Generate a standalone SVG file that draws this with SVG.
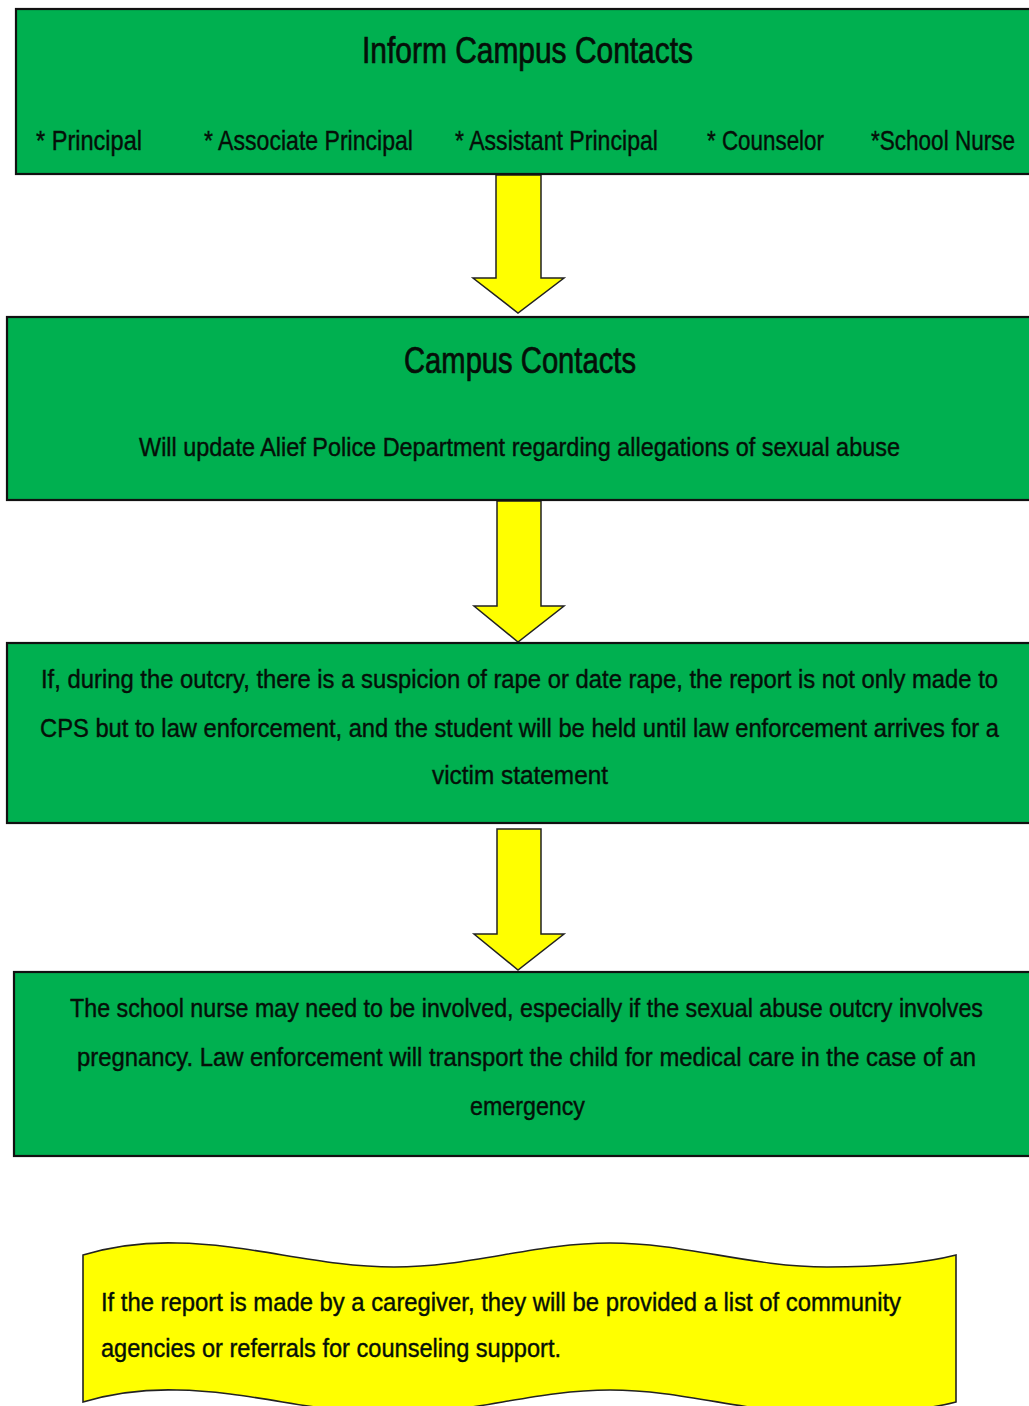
<svg xmlns="http://www.w3.org/2000/svg" width="1029" height="1406" viewBox="0 0 1029 1406">
<style>
.box{fill:#00B050;stroke:#111;stroke-width:2.2}
.arrow{fill:#FFFF00;stroke:#222;stroke-width:1.5;stroke-linejoin:miter}
.wave{fill:#FFFF00;stroke:#222;stroke-width:1.6}
text{font-family:"Liberation Sans",Arial,sans-serif;fill:#050f08;stroke:#050f08}
.title{font-size:36px;stroke-width:0.7}
.item{font-size:28px;stroke-width:0.4}
.body{font-size:26px;stroke-width:0.4}
</style>
<rect width="1029" height="1406" fill="#ffffff"/>
<g id="connectors">
<path class="arrow" d="M496,175 L541,175 L541,278 L564,278 L518,313 L473,278 L496,278 Z"/>
<path class="arrow" d="M497,501 L541,501 L541,606 L564,606 L518,642 L474,606 L497,606 Z"/>
<path class="arrow" d="M497,829 L541,829 L541,934 L564,934 L518,970 L474,934 L497,934 Z"/>
</g>
<g id="node-inform">
<rect class="box" x="16" y="9" width="1030" height="165"/>
<text class="title" x="362" y="63" textLength="331" lengthAdjust="spacingAndGlyphs">Inform Campus Contacts</text>
<text class="item" x="36" y="150" textLength="106" lengthAdjust="spacingAndGlyphs">* Principal</text>
<text class="item" x="204" y="150" textLength="209" lengthAdjust="spacingAndGlyphs">* Associate Principal</text>
<text class="item" x="455" y="150" textLength="203" lengthAdjust="spacingAndGlyphs">* Assistant Principal</text>
<text class="item" x="707" y="150" textLength="117" lengthAdjust="spacingAndGlyphs">* Counselor</text>
<text class="item" x="871" y="150" textLength="144" lengthAdjust="spacingAndGlyphs">*School Nurse</text>
</g>
<g id="node-campus">
<rect class="box" x="7" y="317" width="1040" height="183"/>
<text class="title" x="404" y="373" textLength="232" lengthAdjust="spacingAndGlyphs">Campus Contacts</text>
<text class="body" x="139" y="456" textLength="761" lengthAdjust="spacingAndGlyphs">Will update Alief Police Department regarding allegations of sexual abuse</text>
</g>
<g id="node-rape">
<rect class="box" x="7" y="643" width="1040" height="180"/>
<text class="body" x="41" y="688" textLength="957" lengthAdjust="spacingAndGlyphs">If, during the outcry, there is a suspicion of rape or date rape, the report is not only made to</text>
<text class="body" x="40" y="737" textLength="959" lengthAdjust="spacingAndGlyphs">CPS but to law enforcement, and the student will be held until law enforcement arrives for a</text>
<text class="body" x="432" y="784" textLength="176" lengthAdjust="spacingAndGlyphs">victim statement</text>
</g>
<g id="node-nurse">
<rect class="box" x="14" y="972" width="1030" height="184"/>
<text class="body" x="70" y="1017" textLength="913" lengthAdjust="spacingAndGlyphs">The school nurse may need to be involved, especially if the sexual abuse outcry involves</text>
<text class="body" x="77" y="1066" textLength="899" lengthAdjust="spacingAndGlyphs">pregnancy.  Law enforcement will transport the child for medical care in the case of an</text>
<text class="body" x="470" y="1115" textLength="115" lengthAdjust="spacingAndGlyphs">emergency</text>
</g>
<g id="node-caregiver">
<path class="wave" d="M83,1255 C110,1247 140,1242 177,1243 C250,1244 320,1267 394,1267 C470,1267 535,1243 610,1243 C685,1243 750,1267 827,1267 C880,1267 925,1263 956,1255 L956,1402 C925,1410 880,1414 827,1414 C750,1414 685,1390 610,1390 C535,1390 470,1414 394,1414 C320,1414 250,1391 177,1390 C140,1389 110,1394 83,1402 Z"/>
<text class="body" x="101" y="1311" textLength="800" lengthAdjust="spacingAndGlyphs">If the report is made by a caregiver, they will be provided a list of community</text>
<text class="body" x="101" y="1357" textLength="460" lengthAdjust="spacingAndGlyphs">agencies or referrals for counseling support.</text>
</g>
</svg>
